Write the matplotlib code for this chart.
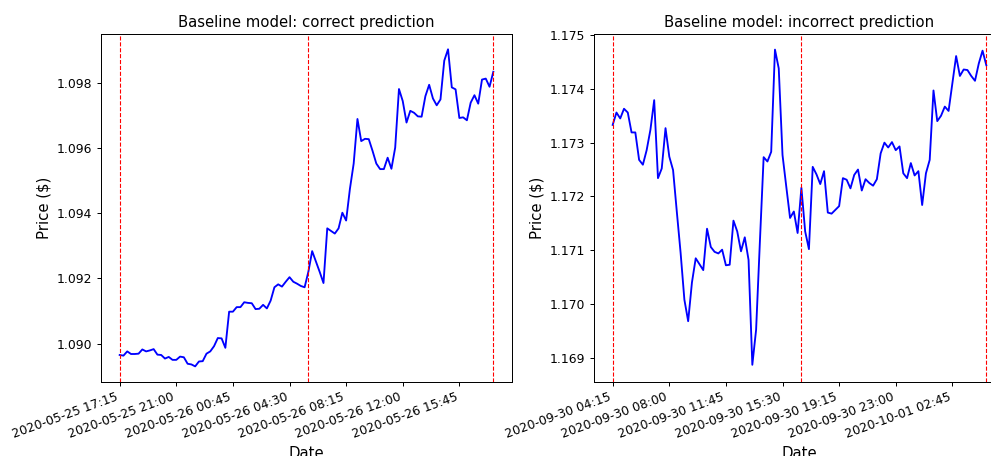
import numpy as np
import pandas as pd
import matplotlib
matplotlib.use("Agg")
from matplotlib import pyplot as plt
from matplotlib.ticker import FormatStrFormatter
import matplotlib.dates as mdates

# 15-minute EUR/USD closes around two prediction windows
correct_start = "2020-05-25 17:15"
correct_price = [
    1.08965, 1.08963, 1.08976, 1.08968, 1.08968, 1.08969, 1.08982, 1.08976, 1.08979, 1.08983,
    1.08966, 1.08965, 1.08954, 1.08959, 1.08950, 1.08950, 1.08960, 1.08958, 1.08938, 1.08936,
    1.08930, 1.08945, 1.08946, 1.08969, 1.08976, 1.08992, 1.09017, 1.09016, 1.08987, 1.09098,
    1.09098, 1.09112, 1.09112, 1.09127, 1.09125, 1.09124, 1.09106, 1.09107, 1.09119, 1.09108,
    1.09132, 1.09173, 1.09182, 1.09175, 1.09190, 1.09204, 1.09190, 1.09184, 1.09177, 1.09173,
    1.09221, 1.09284, 1.09252, 1.09220, 1.09186, 1.09354, 1.09346, 1.09338, 1.09354, 1.09402,
    1.09378, 1.09475, 1.09553, 1.09690, 1.09622, 1.09629, 1.09628, 1.09592, 1.09553, 1.09536,
    1.09536, 1.09571, 1.09537, 1.09602, 1.09782, 1.09745, 1.09679, 1.09715, 1.09709, 1.09698,
    1.09697, 1.09760, 1.09795, 1.09753, 1.09732, 1.09750, 1.09869, 1.09904, 1.09787, 1.09781,
    1.09693, 1.09695, 1.09686, 1.09740, 1.09763, 1.09737, 1.09811, 1.09814, 1.09789, 1.09835,
]

incorrect_start = "2020-09-30 04:15"
incorrect_price = [
    1.17333, 1.17356, 1.17345, 1.17363, 1.17356, 1.17319, 1.17319, 1.17268, 1.17259, 1.17286,
    1.17324, 1.17379, 1.17234, 1.17252, 1.17327, 1.17274, 1.17249, 1.17171, 1.17095, 1.17008,
    1.16968, 1.17040, 1.17085, 1.17074, 1.17063, 1.17140, 1.17106, 1.17097, 1.17094, 1.17101,
    1.17072, 1.17073, 1.17155, 1.17135, 1.17098, 1.17124, 1.17082, 1.16887, 1.16952, 1.17115,
    1.17273, 1.17265, 1.17283, 1.17473, 1.17438, 1.17277, 1.17218, 1.17160, 1.17172, 1.17132,
    1.17216, 1.17135, 1.17102, 1.17255, 1.17241, 1.17223, 1.17247, 1.17170, 1.17168, 1.17175,
    1.17182, 1.17234, 1.17231, 1.17215, 1.17240, 1.17250, 1.17211, 1.17232, 1.17225, 1.17220,
    1.17232, 1.17280, 1.17300, 1.17291, 1.17301, 1.17286, 1.17293, 1.17243, 1.17234, 1.17262,
    1.17239, 1.17247, 1.17184, 1.17243, 1.17268, 1.17397, 1.17340, 1.17350, 1.17367, 1.17359,
    1.17410, 1.17461, 1.17424, 1.17436, 1.17435, 1.17424, 1.17415, 1.17447, 1.17471, 1.17444,
]

titles = ["Baseline model: correct prediction", "Baseline model: incorrect prediction"]
marker_idx = [0, 50, 99]   # window start, prediction point, window end
tick_step = 15

dpi = 89
fig = plt.figure(figsize=(991 / dpi, 456 / dpi), dpi=dpi)
ax1 = fig.add_axes([101 / 991, 74 / 456, 411 / 991, 348 / 456])
ax2 = fig.add_axes([594 / 991, 74 / 456, 411 / 991, 348 / 456])

for ax, start, price, title in zip([ax1, ax2], [correct_start, incorrect_start],
                                   [correct_price, incorrect_price], titles):
    dates = pd.date_range(start, periods=len(price), freq="15min")
    ax.plot(dates, price, color="blue", linewidth=1.5)
    for i in marker_idx:
        ax.axvline(dates[i], color="red", linestyle="--", linewidth=0.9)
    ax.set_xticks(dates[::tick_step])
    ax.xaxis.set_major_formatter(mdates.DateFormatter("%Y-%m-%d %H:%M"))
    plt.setp(ax.get_xticklabels(), rotation=20, ha="right")
    ax.yaxis.set_major_formatter(FormatStrFormatter("%.3f"))
    ax.set_title(title, fontsize=12)
    ax.set_xlabel("Date", fontsize=12)
    ax.set_ylabel("Price ($)", fontsize=12)

ax1.set_ylim(1.08882, 1.09951)
ax2.set_ylim(1.16855, 1.17502)

fig.savefig("out.png", dpi=dpi)
